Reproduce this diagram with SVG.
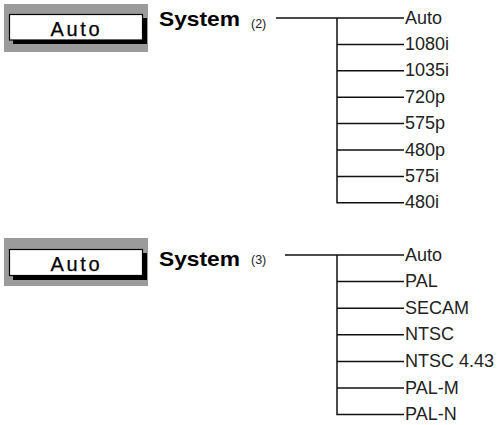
<svg xmlns="http://www.w3.org/2000/svg" width="498" height="425" viewBox="0 0 498 425">
<style>
.bg{fill:#9b9b9b}
.shadow{fill:#000}
.btn{fill:#fff;stroke:#000;stroke-width:1.2}
.btxt{font-family:"Liberation Sans",Arial,sans-serif;font-size:20px;fill:#000;stroke:#000;stroke-width:0.25;text-anchor:middle}
.title{font-family:"Liberation Sans",Arial,sans-serif;font-size:21px;font-weight:bold;fill:#000}
.num{font-family:"Liberation Sans",Arial,sans-serif;font-size:12.5px;fill:#222}
.lbl{font-family:"Liberation Sans",Arial,sans-serif;font-size:18px;fill:#222}
.ln{stroke:#111;stroke-width:1.5;fill:none}
</style>
<g id="button1">
<rect class="bg" x="4" y="4" width="144" height="48"/>
<rect class="shadow" x="13" y="18" width="134" height="26"/>
<rect class="btn" x="9.5" y="14.5" width="133" height="25.5"/>
<text class="btxt" x="75" y="36" textLength="49" lengthAdjust="spacing">Auto</text>
</g>
<g id="title1">
<text class="title" x="159" y="26" textLength="81" lengthAdjust="spacingAndGlyphs">System</text>
<text class="num" x="251" y="28">(2)</text>
</g>
<g id="button2">
<rect class="bg" x="4" y="238" width="144" height="48"/>
<rect class="shadow" x="13" y="253" width="134" height="27"/>
<rect class="btn" x="9.5" y="249.5" width="133" height="26"/>
<text class="btxt" x="75" y="271" textLength="49" lengthAdjust="spacing">Auto</text>
</g>
<g id="title2">
<text class="title" x="159" y="266" textLength="81" lengthAdjust="spacingAndGlyphs">System</text>
<text class="num" x="251" y="264">(3)</text>
</g>
<g id="connectors">
<path class="ln" d="M276 18H404 M337 18V202.8H404 M337 44.4H404 M337 70.8H404 M337 97.2H404 M337 123.6H404 M337 150H404 M337 176.4H404"/>
<path class="ln" d="M285 255H404 M337 255V414.6H404 M337 281.6H404 M337 308.2H404 M337 334.8H404 M337 361.4H404 M337 388H404"/>
</g>
<g id="options1">
<text class="lbl" x="405" y="23.5">Auto</text>
<text class="lbl" x="405" y="49.9">1080i</text>
<text class="lbl" x="405" y="76.3">1035i</text>
<text class="lbl" x="405" y="102.7">720p</text>
<text class="lbl" x="405" y="129.1">575p</text>
<text class="lbl" x="405" y="155.5">480p</text>
<text class="lbl" x="405" y="181.9">575i</text>
<text class="lbl" x="405" y="208.3">480i</text>
</g>
<g id="options2">
<text class="lbl" x="405" y="260.5">Auto</text>
<text class="lbl" x="405" y="287.1">PAL</text>
<text class="lbl" x="405" y="313.7">SECAM</text>
<text class="lbl" x="405" y="340.3">NTSC</text>
<text class="lbl" x="405" y="366.9">NTSC 4.43</text>
<text class="lbl" x="405" y="393.5">PAL-M</text>
<text class="lbl" x="405" y="420.1">PAL-N</text>
</g>
</svg>
